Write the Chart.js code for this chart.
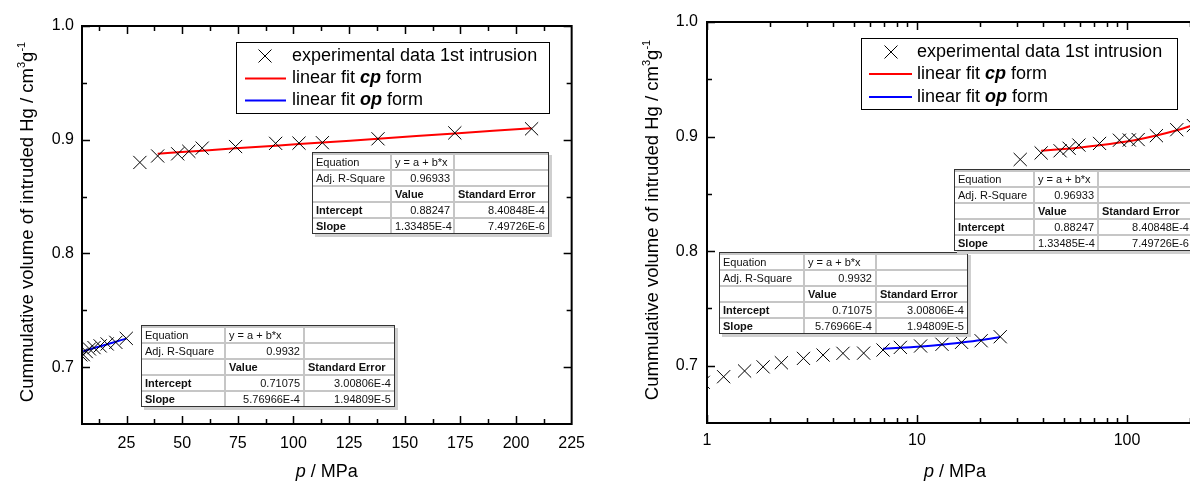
<!DOCTYPE html>
<html>
<head>
<meta charset="utf-8">
<script src="https://cdn.jsdelivr.net/npm/chart.js@4.4.1/dist/chart.umd.min.js"></script>
<style>
  body { margin: 0; width: 1190px; height: 482px; overflow: hidden; background: #fff; position: relative;
         font-family: "Liberation Sans", Arial, sans-serif; }
  canvas { position: absolute; top: 0; }
  #linChart { left: 0; }
  #logChart { left: 600px; }
  .fit { position: absolute; border: 1px solid #333; box-shadow: 3px 3px 0 #cfcfcf; background: #fff; }
  .fit table { border-collapse: collapse; table-layout: fixed; font-size: 11px; color: #111; }
  .fit td { border: 2px solid #c6c6c6; height: 14px; line-height: 14px; padding: 0 3px; white-space: nowrap; overflow: hidden; }
  .fit tr:first-child td { border-top: 0; }
  .fit tr:last-child td { border-bottom: 0; }
  .fit td:first-child { border-left: 0; }
  .fit td:last-child { border-right: 0; }
  .fit td.n { text-align: right; }
</style>
</head>
<body>
<canvas id="linChart" width="595" height="482"></canvas>
<canvas id="logChart" width="620" height="482"></canvas>
<script>
// values (p in MPa, V in cm3/g)
const pressure = [0.96, 1.2, 1.51, 1.85, 2.26, 2.88, 3.57, 4.44, 5.57, 6.89, 8.33, 10.4, 13.15, 16.3, 20.2, 24.9,
                  31, 39, 48, 53, 59, 74, 92, 102.5, 113, 138, 172.5, 207];
const volume = [0.6855, 0.6904, 0.6954, 0.699, 0.7026, 0.7064, 0.7093, 0.7108, 0.711, 0.7137, 0.716, 0.7172, 0.7187, 0.7204, 0.7218, 0.7253,
                0.880, 0.8857, 0.8876, 0.8898, 0.8926, 0.894, 0.8968, 0.897, 0.8974, 0.9008, 0.906, 0.9096];

// fit lines (cp = closed pore form, op = open pore form)
const cpFitP = [39, 48, 59, 74, 92, 113, 138, 172.5, 207];
const cpFitV = [0.8877, 0.8889, 0.8903, 0.8924, 0.8948, 0.8975, 0.9009, 0.9055, 0.9101];
const opFitP = [5.57, 6.89, 8.33, 10.4, 13.15, 16.3, 20.2, 24.9];
const opFitV = [0.7140, 0.7147, 0.7156, 0.7168, 0.7183, 0.7202, 0.7224, 0.7251];

// ticks
const linTicks = [25, 50, 75, 100, 125, 150, 175, 200, 225];
const linMinor = [12.5, 37.5, 62.5, 87.5, 112.5, 137.5, 162.5, 187.5, 212.5];
const logTicks = [1, 10, 100];
const yTicks = [0.7, 0.8, 0.9, 1.0];
const yMinor = [0.75, 0.85, 0.95];

// fit tables
const cpTable = [
  ['Equation', 'y = a + b*x', ''],
  ['Adj. R-Square', '0.96933', ''],
  ['', 'Value', 'Standard Error'],
  ['Intercept', '0.88247', '8.40848E-4'],
  ['Slope', '1.33485E-4', '7.49726E-6']
];
const opTable = [
  ['Equation', 'y = a + b*x', ''],
  ['Adj. R-Square', '0.9932', ''],
  ['', 'Value', 'Standard Error'],
  ['Intercept', '0.71075', '3.00806E-4'],
  ['Slope', '5.76966E-4', '1.94809E-5']
];

const FONT = '"Liberation Sans", Arial, sans-serif';

let logMinor = [];
for (let d = 1; d <= 100; d *= 10) {
  for (let m = 2; m <= 9; m++) logMinor.push(m * d);
}

function pts(xs, ys) {
  return xs.map((x, i) => ({ x: x, y: ys[i] }));
}

// frame with inward ticks on all four sides
const framePlugin = {
  id: 'frame',
  afterDraw(chart, args, o) {
    const { ctx, chartArea: a } = chart;
    const x = chart.scales.x, y = chart.scales.y;
    ctx.save();
    ctx.strokeStyle = '#000';
    ctx.lineWidth = 1.5;
    const tx = (v, len) => {
      const px = Math.round(x.getPixelForValue(v)) + 0.5;
      if (px < a.left || px > a.right) return;
      ctx.beginPath();
      ctx.moveTo(px, a.bottom); ctx.lineTo(px, a.bottom - len);
      ctx.moveTo(px, a.top); ctx.lineTo(px, a.top + len);
      ctx.stroke();
    };
    const ty = (v, len) => {
      const py = Math.round(y.getPixelForValue(v)) + 0.5;
      if (py < a.top - 1 || py > a.bottom + 1) return;
      ctx.beginPath();
      ctx.moveTo(a.left, py); ctx.lineTo(a.left + len, py);
      ctx.moveTo(a.right, py); ctx.lineTo(a.right - len, py);
      ctx.stroke();
    };
    o.xMajor.forEach(v => tx(v, 8));
    o.xMinor.forEach(v => tx(v, 5));
    yTicks.forEach(v => ty(v, 8));
    yMinor.forEach(v => ty(v, 5));
    ctx.lineWidth = 2;
    ctx.strokeRect(a.left, a.top, a.right - a.left, a.bottom - a.top);

    // axis titles
    ctx.fillStyle = '#000';
    ctx.textBaseline = 'alphabetic';
    // x title: italic p / MPa
    const cx = (a.left + a.right) / 2;
    ctx.font = 'italic 18px ' + FONT;
    const wp = ctx.measureText('p').width;
    ctx.font = '18px ' + FONT;
    const wr = ctx.measureText(' / MPa').width;
    let sx = cx - (wp + wr) / 2;
    ctx.font = 'italic 18px ' + FONT;
    ctx.fillText('p', sx, 477);
    ctx.font = '18px ' + FONT;
    ctx.fillText(' / MPa', sx + wp, 477);

    // y title with superscripts
    const parts = [
      ['Cummulative volume of intruded Hg / cm', '18.5px ' + FONT, 0],
      ['3', '11px ' + FONT, -8],
      ['g', '18.5px ' + FONT, 0],
      ['-1', '11px ' + FONT, -8]
    ];
    ctx.translate(o.yTitleX, o.yTitleY);
    ctx.rotate(-Math.PI / 2);
    let total = 0;
    parts.forEach(p => { ctx.font = p[1]; total += ctx.measureText(p[0]).width; });
    let px = -total / 2;
    parts.forEach(p => {
      ctx.font = p[1];
      ctx.fillText(p[0], px, 6.5 + p[2]);
      px += ctx.measureText(p[0]).width;
    });
    ctx.restore();
  }
};

// legend with cross marker and two fit lines
const legendPlugin = {
  id: 'fitLegend',
  afterDraw(chart, args, o) {
    const ctx = chart.ctx;
    ctx.save();
    ctx.fillStyle = '#fff';
    ctx.fillRect(o.x, o.y, o.w, o.h);
    ctx.strokeStyle = '#000';
    ctx.lineWidth = 1;
    ctx.strokeRect(o.x + 0.5, o.y + 0.5, o.w, o.h);

    // marker
    const r = 6.5;
    ctx.lineWidth = 1;
    ctx.beginPath();
    ctx.moveTo(o.mx - r, o.rows[0] - r); ctx.lineTo(o.mx + r, o.rows[0] + r);
    ctx.moveTo(o.mx + r, o.rows[0] - r); ctx.lineTo(o.mx - r, o.rows[0] + r);
    ctx.stroke();
    // lines
    ctx.lineWidth = 2;
    [['#ff0000', o.rows[1]], ['#0000ff', o.rows[2]]].forEach(l => {
      ctx.strokeStyle = l[0];
      ctx.beginPath();
      ctx.moveTo(o.l0, l[1]); ctx.lineTo(o.l1, l[1]);
      ctx.stroke();
    });

    ctx.fillStyle = '#000';
    ctx.textBaseline = 'middle';
    ctx.font = '18px ' + FONT;
    ctx.fillText('experimental data 1st intrusion', o.tx, o.rows[0]);
    [['cp', o.rows[1]], ['op', o.rows[2]]].forEach(t => {
      let x = o.tx;
      ctx.font = '18px ' + FONT;
      ctx.fillText('linear fit ', x, t[1]);
      x += ctx.measureText('linear fit ').width;
      ctx.font = 'italic bold 18px ' + FONT;
      ctx.fillText(t[0], x, t[1]);
      x += ctx.measureText(t[0]).width;
      ctx.font = '18px ' + FONT;
      ctx.fillText(' form', x, t[1]);
    });
    ctx.restore();
  }
};

function datasets(opSkip) {
  return [
    {
      type: 'scatter',
      data: pts(pressure, volume),
      pointStyle: 'crossRot',
      pointRadius: 9.3,
      pointBorderWidth: 1,
      borderColor: '#000',
      backgroundColor: '#000'
    },
    {
      type: 'line',
      data: pts(cpFitP, cpFitV),
      borderColor: '#ff0000',
      borderWidth: 2,
      pointRadius: 0,
      tension: 0.3
    },
    {
      type: 'line',
      data: pts(opFitP.slice(opSkip), opFitV.slice(opSkip)),
      borderColor: '#0000ff',
      borderWidth: 2,
      pointRadius: 0,
      tension: 0.3
    }
  ];
}

function yScale(width, pad) {
  return {
    type: 'linear',
    min: 0.65,
    max: 1.0,
    afterBuildTicks: s => { s.ticks = yTicks.map(v => ({ value: v })); },
    afterFit: s => { s.width = width; },
    grid: { display: false, tickLength: 0 },
    border: { display: false },
    ticks: { color: '#000', font: { family: FONT, size: 16 }, padding: pad, callback: v => v.toFixed(1) }
  };
}

new Chart(document.getElementById('linChart'), {
  type: 'scatter',
  data: { datasets: datasets(0) },
  options: {
    responsive: false,
    animation: false,
    events: [],
    layout: { padding: { top: 26, right: 20, left: 0, bottom: 0 } },
    plugins: {
      legend: { display: false },
      tooltip: { enabled: false },
      frame: { xMajor: linTicks, xMinor: linMinor, yTitleX: 26, yTitleY: 222 },
      fitLegend: { x: 236, y: 42, w: 313, h: 71, rows: [56, 78.5, 100.5], mx: 265, l0: 245, l1: 286, tx: 292 }
    },
    scales: {
      x: {
        type: 'linear',
        min: 5,
        max: 225,
        afterBuildTicks: s => { s.ticks = linTicks.map(v => ({ value: v })); },
        afterFit: s => { s.height = 58; },
        grid: { display: false, tickLength: 0 },
        border: { display: false },
        ticks: { color: '#000', font: { family: FONT, size: 16 }, padding: 10, autoSkip: false, maxRotation: 0 }
      },
      y: yScale(82, 8)
    }
  },
  plugins: [framePlugin, legendPlugin]
});

new Chart(document.getElementById('logChart'), {
  type: 'scatter',
  data: { datasets: datasets(1) },
  options: {
    responsive: false,
    animation: false,
    events: [],
    layout: { padding: { top: 22, right: 17, left: 0, bottom: 0 } },
    plugins: {
      legend: { display: false },
      tooltip: { enabled: false },
      frame: { xMajor: logTicks, xMinor: logMinor, yTitleX: 51, yTitleY: 220 },
      fitLegend: { x: 261, y: 38, w: 316, h: 71, rows: [52, 74, 97], mx: 291, l0: 269, l1: 312, tx: 317 }
    },
    scales: {
      x: {
        type: 'logarithmic',
        min: 1,
        max: 230,
        afterBuildTicks: s => { s.ticks = logTicks.map(v => ({ value: v })); },
        afterFit: s => { s.height = 59; },
        grid: { display: false, tickLength: 0 },
        border: { display: false },
        ticks: { color: '#000', font: { family: FONT, size: 16 }, padding: 8, autoSkip: false, maxRotation: 0,
                 callback: v => String(v) }
      },
      y: yScale(107, 9)
    }
  },
  plugins: [framePlugin, legendPlugin]
});

// fit tables as overlays
function makeTable(rows, left, top, cols) {
  const box = document.createElement('div');
  box.className = 'fit';
  box.style.left = left + 'px';
  box.style.top = top + 'px';
  const t = document.createElement('table');
  t.style.width = cols.reduce((s, c) => s + c, 0) + 'px';
  const cg = document.createElement('colgroup');
  cols.forEach(c => { const col = document.createElement('col'); col.style.width = c + 'px'; cg.appendChild(col); });
  t.appendChild(cg);
  rows.forEach((r, ri) => {
    const tr = document.createElement('tr');
    r.forEach((c, ci) => {
      const td = document.createElement('td');
      td.textContent = c;
      const bold = ri === 2 || (ci === 0 && ri >= 3);
      if (bold) td.style.fontWeight = 'bold';
      if (ri !== 2 && ci > 0 && !(ri === 0 && ci === 1)) td.className = 'n';
      tr.appendChild(td);
    });
    t.appendChild(tr);
  });
  box.appendChild(t);
  document.body.appendChild(box);
}

makeTable(cpTable, 312, 152, [78, 63, 94]);
makeTable(opTable, 141, 325, [83, 79, 90]);
makeTable(opTable, 719, 252, [84, 72, 91]);
makeTable(cpTable, 954, 169, [79, 64, 94]);
</script>
</body>
</html>
